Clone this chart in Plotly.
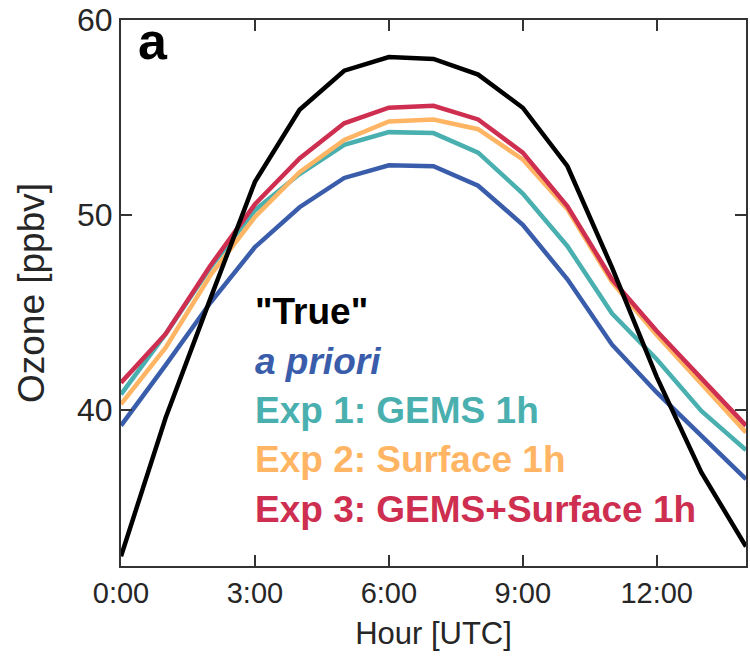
import plotly.graph_objects as go

hours = list(range(15))
true_vals = [32.5, 39.6, 45.7, 51.7, 55.4, 57.4, 58.1, 58.0, 57.2, 55.5, 52.5, 47.3, 41.7, 36.8, 33.0]
apriori = [39.2, 42.3, 45.5, 48.35, 50.4, 51.9, 52.55, 52.5, 51.5, 49.5, 46.7, 43.35, 40.9, 38.65, 36.45]
exp1 = [40.8, 43.9, 47.3, 50.25, 52.1, 53.6, 54.25, 54.2, 53.2, 51.1, 48.4, 44.95, 42.6, 39.95, 37.95]
exp2 = [40.3, 43.2, 46.9, 49.9, 52.2, 53.85, 54.8, 54.9, 54.4, 52.85, 50.3, 46.55, 43.85, 41.35, 38.85]
exp3 = [41.4, 43.9, 47.4, 50.55, 52.9, 54.7, 55.5, 55.6, 54.9, 53.2, 50.45, 46.7, 44.05, 41.6, 39.2]

series_names = ['"True"', 'a priori', 'Exp 1: GEMS 1h', 'Exp 2: Surface 1h', 'Exp 3: GEMS+Surface 1h']
series_vals = [true_vals, apriori, exp1, exp2, exp3]
colors = ['#000000', '#3A5DAB', '#4AAFAF', '#FFB563', '#CE2F50']
label_texts = ['<b>"True"</b>', '<b><i>a priori</i></b>', '<b>Exp 1: GEMS 1h</b>',
               '<b>Exp 2: Surface 1h</b>', '<b>Exp 3: GEMS+Surface 1h</b>']

xticks = [0, 3, 6, 9, 12]
xticklabels = ['0:00', '3:00', '6:00', '9:00', '12:00']
yticks = [40, 50, 60]

fig = go.Figure()
order = [1, 2, 3, 4, 0]
for i in order:
    fig.add_trace(go.Scatter(x=hours, y=series_vals[i], mode='lines', name=series_names[i],
                             line=dict(color=colors[i], width=4.5), showlegend=False))

fam = 'Liberation Sans, Arial'
xtick_font = dict(family=fam, size=29, color='#262626')
ytick_font = dict(family=fam, size=32, color='#262626')
axis_common = dict(showline=True, linecolor='#333333', linewidth=2, mirror='allticks',
                   ticks='inside', ticklen=11, tickwidth=2, tickcolor='#333333',
                   showgrid=False, zeroline=False)

fig.update_xaxes(range=[0, 14], tickvals=xticks, ticktext=xticklabels, tickfont=xtick_font,
                 title=dict(text='Hour [UTC]', font=dict(family=fam, size=31, color='#262626'), standoff=15),
                 **axis_common)
fig.update_yaxes(range=[32, 60], tickvals=yticks, tickfont=ytick_font,
                 title=dict(text='Ozone [ppbv]', font=dict(family=fam, size=37, color='#262626'), standoff=21),
                 **axis_common)

legend_y = [312, 362, 411, 460, 510]
for txt, col, yp in zip(label_texts, colors, legend_y):
    fig.add_annotation(x=(253 - 121) / (748 - 121), xref='paper', xanchor='left',
                       y=1 - (yp - 20.5) / (566 - 20.5), yref='paper', yanchor='middle',
                       text=txt, showarrow=False,
                       font=dict(family=fam, size=37, color=col))

fig.add_annotation(x=(136 - 121) / (748 - 121), xref='paper', xanchor='left',
                   y=1 - (41 - 20.5) / (566 - 20.5), yref='paper', yanchor='middle',
                   text='<b>a</b>', showarrow=False,
                   font=dict(family=fam, size=52, color='#000000'))

fig.update_layout(width=750, height=658, margin=dict(l=121, r=2, t=20, b=92),
                  paper_bgcolor='white', plot_bgcolor='white')

fig.write_html('out.html')
